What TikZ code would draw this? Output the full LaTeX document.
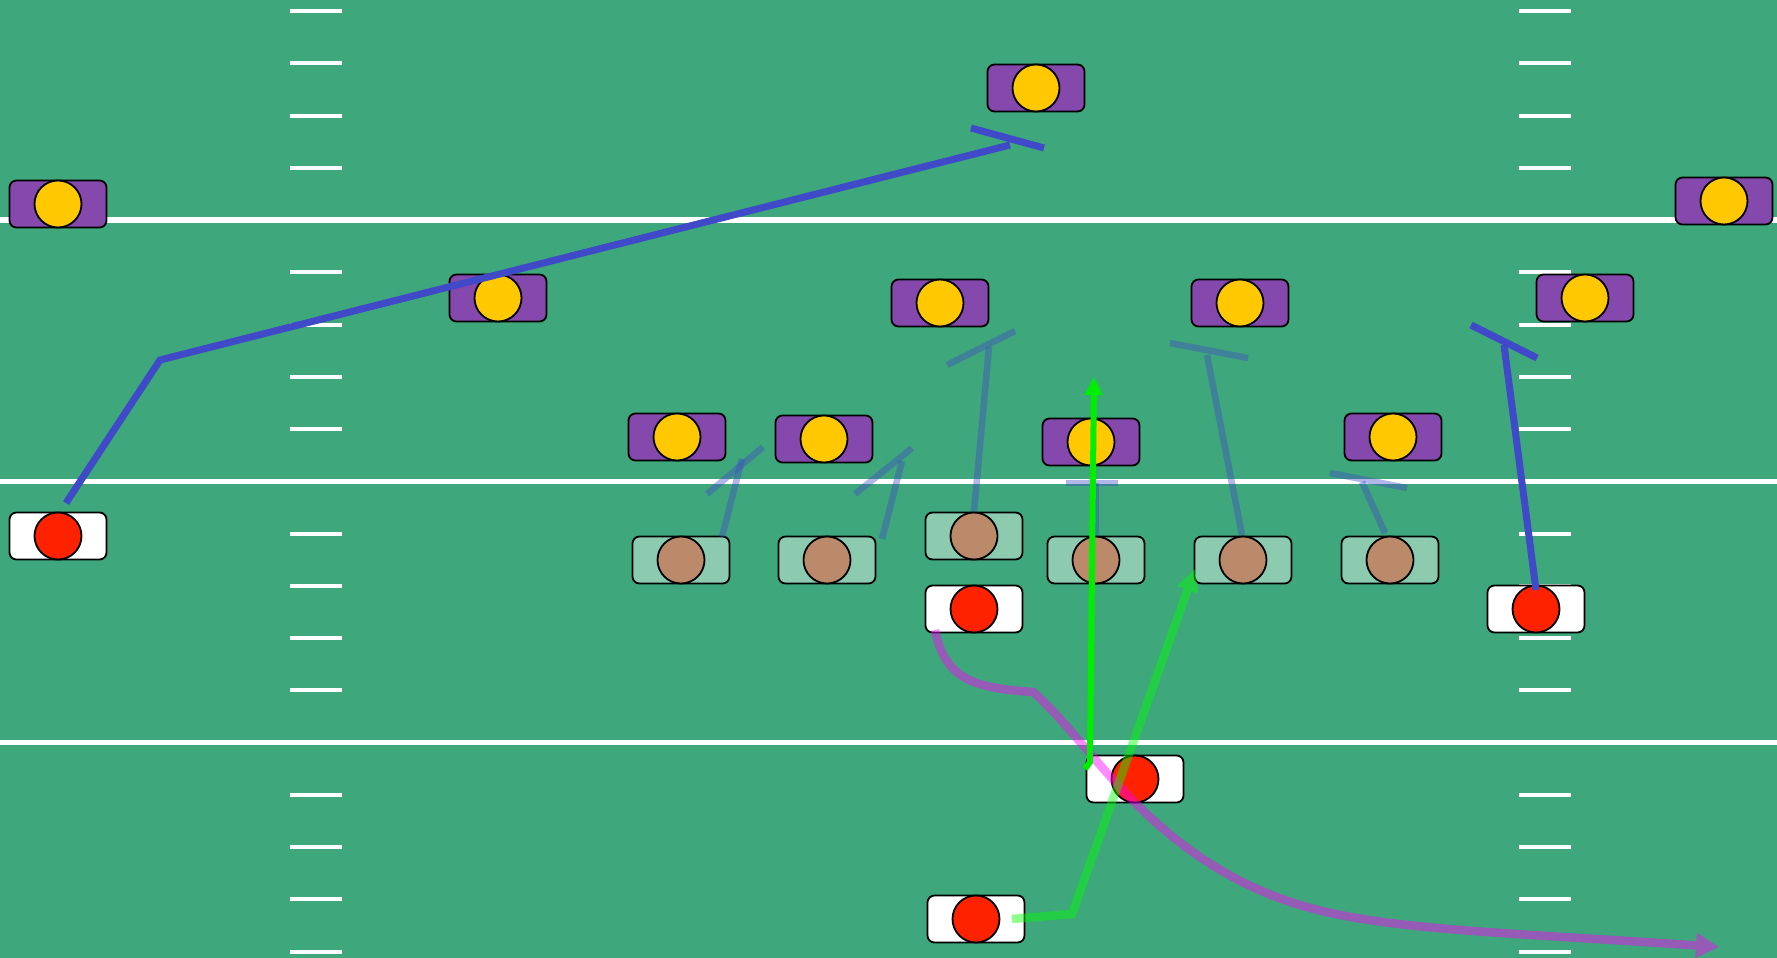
\documentclass[tikz,border=0pt]{standalone}
\usepackage{tikz}
\usetikzlibrary{arrows.meta}
\definecolor{field}{HTML}{3EA77B}
\definecolor{defbox}{HTML}{8549AD}
\definecolor{defdot}{HTML}{FFC800}
\definecolor{offdot}{HTML}{FF2200}
\definecolor{linebox}{HTML}{8CCBB0}
\definecolor{linedot}{HTML}{BA8A6A}
\definecolor{routeblue}{HTML}{4049C8}
\definecolor{runpink}{HTML}{FF00FF}
\definecolor{brightgreen}{HTML}{00EE00}
\definecolor{passgreen}{HTML}{00FF00}

\begin{document}
\begin{tikzpicture}[x=1pt,y=-1pt,
  yard/.style={white,line width=5.5pt},
  hash/.style={white,line width=4pt},
  box/.style={draw=black,line width=1.8pt,rounded corners=7pt,minimum width=97pt,minimum height=47pt,inner sep=0pt},
  dot/.style={circle,draw=black,line width=1.8pt,minimum size=47pt,inner sep=0pt},
  route/.style={routeblue,line width=7pt},
  block/.style={routeblue,line width=6.5pt,draw opacity=0.4},
  tip/.style={-{Triangle[length=#1]}}
]
  \useasboundingbox (0,0) rectangle (1777,958);
  \fill[field] (0,0) rectangle (1777,958);

  % yard lines and hash marks
  \foreach \y in {220,481.5,742.5}
    \draw[yard] (0,\y) -- (1777,\y);
  \foreach \k in {-4,-3,-2,-1,1,2,3,4,6,7,8,9,11,12,13,14} {
    \draw[hash] (290,{220+52.25*(\k)}) -- (342,{220+52.25*(\k)});
    \draw[hash] (1519,{220+52.25*(\k)}) -- (1571,{220+52.25*(\k)});
  }

  % defense
  \foreach \n/\x/\y in {d1/1036/88, d2/58/204, d3/1724/201, d4/498/298, d5/940/303, d6/1240/303,
                        d7/1585/298, d8/677/437, d9/824/439, d10/1091/442, d11/1393/437} {
    \node[box,fill=defbox] (\n) at (\x,\y) {};
    \node[dot,fill=defdot] at (\n) {};
  }
  % offensive line
  \foreach \n/\x/\y in {l1/681/560, l2/827/560, l3/974/536, l4/1096/560, l5/1243/560, l6/1390/560} {
    \node[box,fill=linebox] (\n) at (\x,\y) {};
    \node[dot,fill=linedot] at (\n) {};
  }
  % backs and receivers
  \foreach \n/\x/\y in {o1/58/536, o2/974/609, o3/1536/609, o4/1135/779, o5/976/919} {
    \node[box,fill=white] (\n) at (\x,\y) {};
    \node[dot,fill=offdot] at (\n) {};
  }

  % route points
  \coordinate (o1s) at (66,503);
  \coordinate (o1c) at (160,360);
  \coordinate (o1e) at (1010,145);
  \coordinate (o3s) at (1536,590);
  \coordinate (o3e) at (1504,345);

  % receiver routes
  \draw[route] (o1s) -- (o1c) -- (o1e);
  \draw[route] (971,128) -- (1044,148);
  \draw[route] (o3s) -- (o3e);
  \draw[route] (1471,325) -- (1537,358);

  % blocks
  \draw[block] (722,537) -- (742,459);
  \draw[block] (707,494) -- (763,447);
  \draw[block] (882,539) -- (902,461);
  \draw[block] (855,494) -- (912,448);
  \draw[block] (l3.north) -- (989,347);
  \draw[block] (947,365) -- (1015,331);
  \draw[block] (l4.north) -- (1096,483);
  \draw[block] (1066,483) -- (1118,483);
  \draw[block] (1242,535) -- (1207,355);
  \draw[block] (1170,343) -- (1248,358);
  \draw[block] (1385,533) -- (1362,482);
  \draw[block] (1330,473) -- (1407,488);

  % run and pass lanes
  \coordinate (o2s) at (935,630);
  \coordinate (o5s) at (1012,919);
  \begin{scope}[transparency group,opacity=0.45]
    \draw[runpink,line width=8.5pt,tip={23pt,width=24pt}]
      (o2s) .. controls (945,680) and (975,688) .. (1033,692)
      .. controls (1090,740) and (1150,859) .. (1300,905)
      .. controls (1382,930) and (1500,932) .. (1719,947);
  \end{scope}
  \begin{scope}[transparency group,opacity=0.45]
    \draw[passgreen,line width=8.5pt,tip={22pt,width=21pt}]
      (o5s) -- (1072,914) -- (1195,569);
  \end{scope}
  \draw[brightgreen,line width=6pt,tip={18pt,width=17pt}]
    (1085,769) -- (1090,762) -- (1094,377);
\end{tikzpicture}
\end{document}
